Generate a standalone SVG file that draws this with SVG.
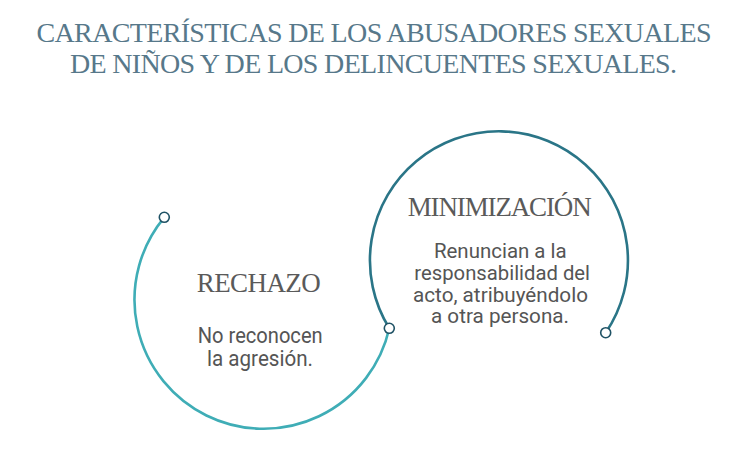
<svg xmlns="http://www.w3.org/2000/svg" width="750" height="451" viewBox="0 0 750 451">
<style>
.title{font-family:"Liberation Serif","DejaVu Serif",serif;font-size:28px;fill:#57788a}
.head{font-family:"Liberation Serif","DejaVu Serif",serif;font-size:27px;fill:#5a5a5a;text-anchor:middle}
.body{font-family:Roboto,"Liberation Sans",sans-serif;font-size:22px;fill:#555555;text-anchor:middle}
.r{font-size:21px}
.arc{fill:none;stroke-width:2.6;stroke-linecap:round}
.dot{fill:#ffffff;stroke:#1f5265;stroke-width:1.6}
</style>
<rect width="750" height="451" fill="#ffffff"/>
<g id="title">
<text class="title" x="36.5" y="41.7" textLength="675">CARACTERÍSTICAS DE LOS ABUSADORES SEXUALES</text>
<text class="title" x="70" y="73.3" textLength="607">DE NIÑOS Y DE LOS DELINCUENTES SEXUALES.</text>
</g>
<g id="connectors">
<path class="arc" stroke="#3fadb6" d="M164.3 217.3 A129 129 0 1 0 389.3 328.3"/>
<path class="arc" stroke="#2a7587" d="M389.3 328.3 A129 129 0 1 1 605.7 332.7"/>
<circle class="dot" cx="164.3" cy="217.3" r="5"/>
<circle class="dot" cx="389.3" cy="328.3" r="5"/>
<circle class="dot" cx="605.7" cy="332.7" r="5"/>
</g>
<g id="rechazo">
<text class="head" x="258.7" y="292.3" textLength="124">RECHAZO</text>
<text class="body" x="260.2" y="342.7" textLength="125" lengthAdjust="spacingAndGlyphs">No reconocen</text>
<text class="body" x="260" y="365.7" textLength="106" lengthAdjust="spacingAndGlyphs">la agresión.</text>
</g>
<g id="minimizacion">
<text class="head" x="499.7" y="215.7" textLength="184">MINIMIZACIÓN</text>
<text class="body r" x="500.3" y="258.3" textLength="132.7" lengthAdjust="spacingAndGlyphs">Renuncian a la</text>
<text class="body r" x="502.2" y="280" textLength="175.7" lengthAdjust="spacingAndGlyphs">responsabilidad del</text>
<text class="body r" x="500.5" y="301.7" textLength="175" lengthAdjust="spacingAndGlyphs">acto, atribuyéndolo</text>
<text class="body r" x="500" y="323.3" textLength="138" lengthAdjust="spacingAndGlyphs">a otra persona.</text>
</g>
</svg>
